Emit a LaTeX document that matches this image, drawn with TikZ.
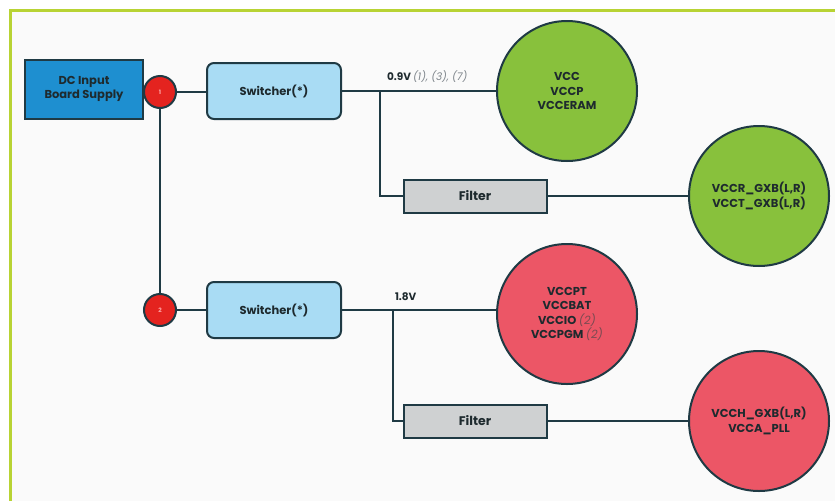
\documentclass[tikz,border=0pt]{standalone}
\usepackage{fontspec}
\setmainfont{Poppins}
\usepackage{tikz}
\usetikzlibrary{shapes,arrows}

\definecolor{framegreen}{HTML}{B8D334}
\definecolor{wirecol}{HTML}{1F3A44}
\definecolor{supplyblue}{HTML}{1E8FD0}
\definecolor{switchblue}{HTML}{A9DCF4}
\definecolor{filtgray}{HTML}{CFD1D2}
\definecolor{railgreen}{HTML}{88C13C}
\definecolor{railred}{HTML}{EC5666}
\definecolor{dotred}{HTML}{E4231F}
\definecolor{notegray}{HTML}{7F868C}
\definecolor{notered}{HTML}{7A4A52}
\definecolor{txtdark}{HTML}{1E2A2E}

\begin{document}
\begin{tikzpicture}[x=1pt,y=-1pt]
				\tikzstyle{common} = [draw=wirecol, line width=2pt, align=center, text=txtdark, font=\bfseries\fontsize{11.5}{14}\selectfont]
				\tikzstyle{supply} = [rectangle, common, fill=supplyblue, minimum width=118pt, minimum height=59pt]
				\tikzstyle{switcher} = [rectangle, rounded corners=7pt, common, fill=switchblue, minimum width=134pt, minimum height=56pt]
				\tikzstyle{filterbox} = [rectangle, common, fill=filtgray, minimum width=143pt, minimum height=33pt, font=\bfseries\fontsize{12.5}{14}\selectfont]
				\tikzstyle{dot} = [circle, common, fill=dotred, minimum size=32pt, inner sep=0, text=red!35, font=\bfseries\fontsize{6}{6}\selectfont]
				\tikzstyle{rail} = [circle, common, minimum size=140pt, inner sep=0, font=\bfseries\fontsize{11.5}{14.5}\selectfont]
				\tikzstyle{railg} = [rail, fill=railgreen]
				\tikzstyle{railr} = [rail, fill=railred]
				\tikzstyle{line} = [draw=wirecol, line width=2pt]
				\tikzstyle{volt} = [common, draw=none, anchor=south west, inner sep=1pt, font=\bfseries\fontsize{10.5}{12}\selectfont]
				% frame
				\useasboundingbox (0,0) rectangle (835,501);
				\fill[white] (0,0) rectangle (835,501);
				\fill[black!2] (10,10) rectangle (835,501);
				\draw[framegreen, line width=3pt] (10,501) -- (10,10) -- (835,10);
				% nodes
				\node[supply] (dc) at (84,89) {DC Input\\Board Supply};
				\node[dot] (n1) at (160,92) {1};
				\node[dot] (n2) at (160,310) {2};
				\node[switcher] (sw1) at (274,91) {Switcher(*)};
				\node[switcher] (sw2) at (274,310) {Switcher(*)};
				\node[railg] (core) at (567,91) {VCC\\VCCP\\VCCERAM};
				\node[filterbox] (filt1) at (475,196) {Filter};
				\node[railg] (gxb1) at (759,196) {VCCR\_GXB(L,R)\\VCCT\_GXB(L,R)};
				\node[railr] (io) at (567,314) {VCCPT\\VCCBAT\\VCCIO {\itshape\mdseries\color{notered}(2)}\\VCCPGM {\itshape\mdseries\color{notered}(2)}};
				\node[filterbox] (filt2) at (475,421) {Filter};
				\node[railr] (gxb2) at (759,421) {VCCH\_GXB(L,R)\\VCCA\_PLL};
				\coordinate (j1) at (380,91);
				\coordinate (j2) at (393,310);
				% wires
				\draw[line] (n1) -- (n2);
				\draw[line] (n1) -- (sw1.west |- n1);
				\draw[line] (n2) -- (sw2);
				\draw[line] (sw1) -- (core.west |- sw1);
				\draw[line] (sw2) -- (io.west |- sw2);
				\draw[line] (j1) |- (filt1);
				\draw[line] (j2) |- (filt2);
				\draw[line] (filt1) -- (gxb1);
				\draw[line] (filt2) -- (gxb2);
				\node[volt] (v09) at (385,84) {0.9V {\itshape\mdseries\color{notegray}(1), (3), (7)}};
				\node[volt] (v18) at (393,303) {1.8V};
			\end{tikzpicture}
\end{document}
